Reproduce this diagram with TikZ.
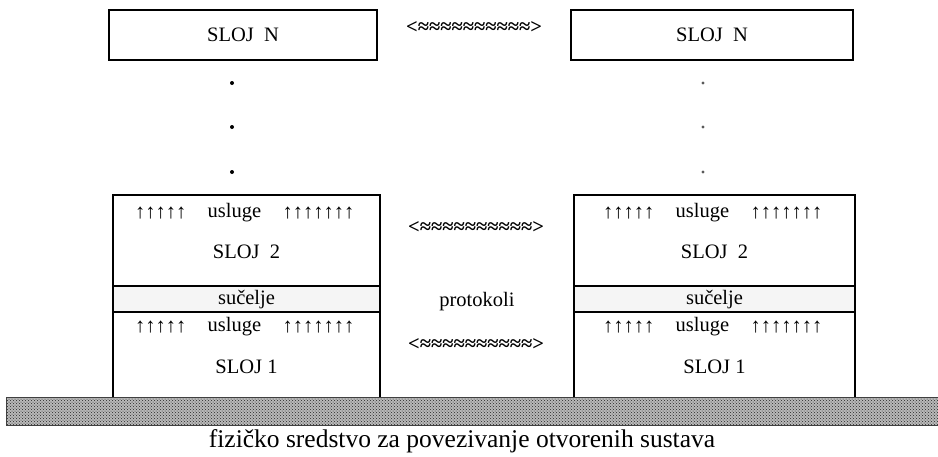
\documentclass[tikz,border=0pt]{standalone}
\usepackage{fontspec}
\setmainfont{Liberation Serif}
\usetikzlibrary{positioning,patterns}
\begin{document}
\begin{tikzpicture}[x=1pt,y=-1pt,
    every node/.style={font=\fontsize{20.5}{24}\selectfont,inner sep=0pt},
    okvir/.style={line width=1.2pt},
    sloj/.style={draw,okvir,minimum height=50},
    veza/.style={font=\fontsize{20.5}{24}\selectfont\bfseries},
    strelice/.style={font=\fontsize{20.5}{24}\selectfont\bfseries}]

    \def\ya{195}%Vrh donjeg bloka
    \def\yb{286}%Gornji rub sucelja
    \def\yc{312}%Donji rub sucelja
    \def\yd{397}%Fizicki sloj

    \useasboundingbox (0,0) rectangle (938,456);

    %Sloj N
    \node[sloj,minimum width=268] (slojNl) at (243,35) {SLOJ\ \ N};
    \node[sloj,minimum width=282] (slojNd) at (712,35) {SLOJ\ \ N};
    \node[veza] (protN) at (474,28) {<≈≈≈≈≈≈≈≈≈≈>};

    %Tocke
    \foreach \y in {83,127,172}{
        \fill (232,\y) circle (2);
        \fill[gray!70!black] (703,\y) circle (1.6);
    }

    %Slojevi 1 i 2
    \foreach \s/\xa/\xb [evaluate={\xc=(\xa+\xb)/2}] in {l/113/380,d/574/855}{
        \fill[gray!8] (\xa,\yb) rectangle (\xb,\yc);
        \draw[okvir] (\xa,\yd)--(\xa,\ya)--(\xb,\ya)--(\xb,\yd);
        \draw[okvir] (\xa,\yb)--(\xb,\yb) (\xa,\yc)--(\xb,\yc);
        \node (usl2\s) at (\xc-12,213) {usluge};
        \node[strelice,left=21pt of usl2\s] (str2a\s) {↑↑↑↑↑};
        \node[strelice,right=21pt of usl2\s] (str2b\s) {↑↑↑↑↑↑↑};
        \node (sloj2\s) at (\xc,252) {SLOJ\ \ 2};
        \node (suc\s) at (\xc,300) {sučelje};
        \node (usl1\s) at (\xc-12,327) {usluge};
        \node[strelice,left=21pt of usl1\s] (str1a\s) {↑↑↑↑↑};
        \node[strelice,right=21pt of usl1\s] (str1b\s) {↑↑↑↑↑↑↑};
        \node (sloj1\s) at (\xc,367) {SLOJ 1};
    }
    \node[veza] (prot2) at (476,228) {<≈≈≈≈≈≈≈≈≈≈>};
    \node (prot) at (477,302) {protokoli};
    \node[veza] (prot1) at (476,345) {<≈≈≈≈≈≈≈≈≈≈>};

    %Fizicko sredstvo
    \fill[gray!55] (6,\yd) rectangle (938,425);
    \fill[pattern=crosshatch dots,pattern color=gray!30!black] (6,\yd) rectangle (938,425);
    \draw[gray!50!black] (6,\yd) rectangle (938,425);
    \node[font=\fontsize{25.5}{30}\selectfont] (medij) at (462,441) {fizičko sredstvo za povezivanje otvorenih sustava};
\end{tikzpicture}
\end{document}
